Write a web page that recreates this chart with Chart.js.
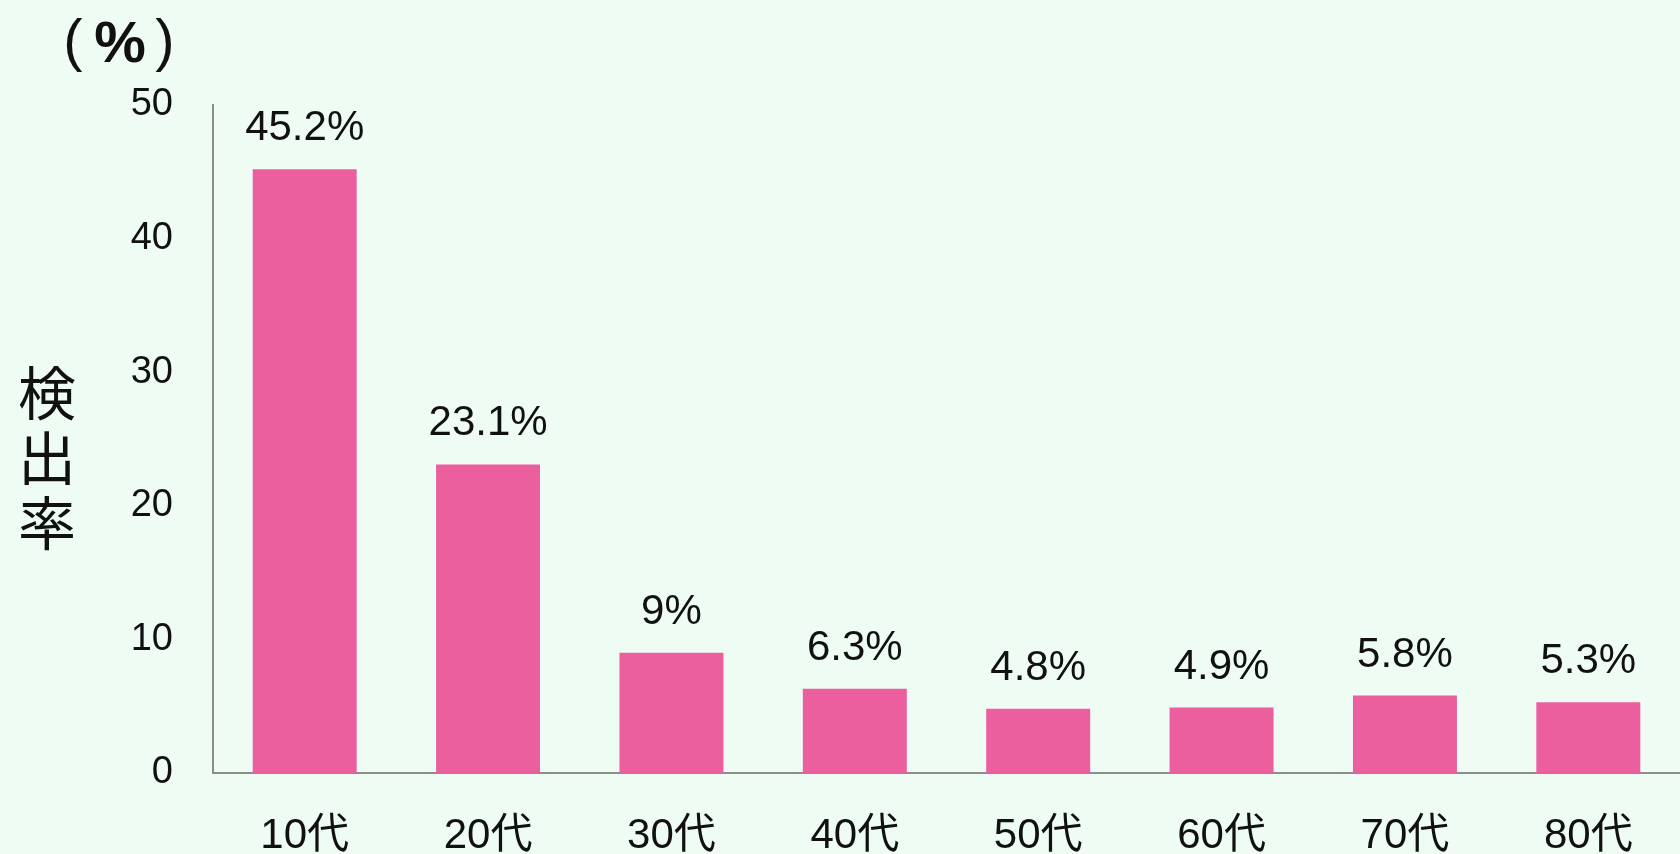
<!DOCTYPE html>
<html lang="ja">
<head>
<meta charset="utf-8">
<title>年代別 検出率</title>
<script src="https://cdn.jsdelivr.net/npm/chart.js@4"></script>
<style>
    html, body {
        margin: 0;
        padding: 0;
        background: #effcf4;
    }
    #chart-box {
        width: 1680px;
        height: 854px;
    }
</style>
</head>
<body>
<div id="chart-box">
    <canvas id="rateChart" width="1680" height="854"></canvas>
</div>
<script>
// data
const ageGroups = ['10代', '20代', '30代', '40代', '50代', '60代', '70代', '80代'];
const detectionRates = [45.2, 23.1, 9, 6.3, 4.8, 4.9, 5.8, 5.3];
const yTicks = [0, 10, 20, 30, 40, 50];

const barColor = '#eb5f9e';
const axisColor = '#8a8f8c';
const jpFont = "'Liberation Sans', 'Noto Sans CJK JP', sans-serif";

// value labels over each bar ("45.2%")
const valueLabels = {
    id: 'valueLabels',
    afterDatasetsDraw(chart) {
        const { ctx } = chart;
        const meta = chart.getDatasetMeta(0);
        ctx.save();
        ctx.font = '42px ' + jpFont;
        ctx.fillStyle = '#111';
        ctx.textAlign = 'center';
        ctx.textBaseline = 'alphabetic';
        meta.data.forEach((bar, i) => {
            ctx.fillText(detectionRates[i] + '%', bar.x, bar.y - 29);
        });
        ctx.restore();
    }
};

// vertical axis title + unit
const axisTitle = {
    id: 'axisTitle',
    afterDraw(chart) {
        const { ctx } = chart;
        ctx.save();
        ctx.fillStyle = '#111';
        ctx.textAlign = 'center';
        ctx.textBaseline = 'middle';
        ctx.font = "58px 'Noto Sans CJK JP', sans-serif";
        const chars = ['検', '出', '率'];
        chars.forEach((ch, i) => {
            ctx.fillText(ch, 47, 393 + i * 65);
        });
        // unit: thin parens, heavier percent sign
        ctx.font = "58px 'Liberation Sans', sans-serif";
        ctx.fillText('(', 73, 44);
        ctx.fillText(')', 165, 44);
        ctx.font = "bold 58px 'Liberation Sans', sans-serif";
        ctx.fillText('%', 120, 46);
        ctx.restore();
    }
};

const ctx = document.getElementById('rateChart').getContext('2d');

const rateChart = new Chart(ctx, {
    type: 'bar',
    data: {
        labels: ageGroups,
        datasets: [{
            data: detectionRates,
            backgroundColor: barColor,
            borderWidth: 0,
            categoryPercentage: 1,
            barPercentage: 0.567,
        }],
    },
    options: {
        responsive: false,
        animation: false,
        layout: {
            padding: { top: 105, right: 0, bottom: 0, left: 0 }
        },
        plugins: {
            legend: { display: false },
            tooltip: { enabled: false },
        },
        scales: {
            x: {
                grid: { display: false },
                border: { display: true, color: axisColor, width: 2 },
                ticks: {
                    color: '#111',
                    font: { family: jpFont, size: 42 },
                    padding: 30,
                    maxRotation: 0,
                },
                afterFit(scale) {
                    scale.height = 81;
                },
            },
            y: {
                min: 0,
                max: 50,
                afterBuildTicks(scale) {
                    scale.ticks = yTicks.map(v => ({ value: v }));
                },
                grid: { display: false, drawTicks: false },
                border: { display: true, color: axisColor, width: 2 },
                ticks: {
                    color: '#111',
                    font: { family: jpFont, size: 38 },
                    padding: 40,
                },
                afterFit(scale) {
                    scale.width = 213;
                },
            },
        },
    },
    plugins: [valueLabels, axisTitle],
});
</script>
</body>
</html>
